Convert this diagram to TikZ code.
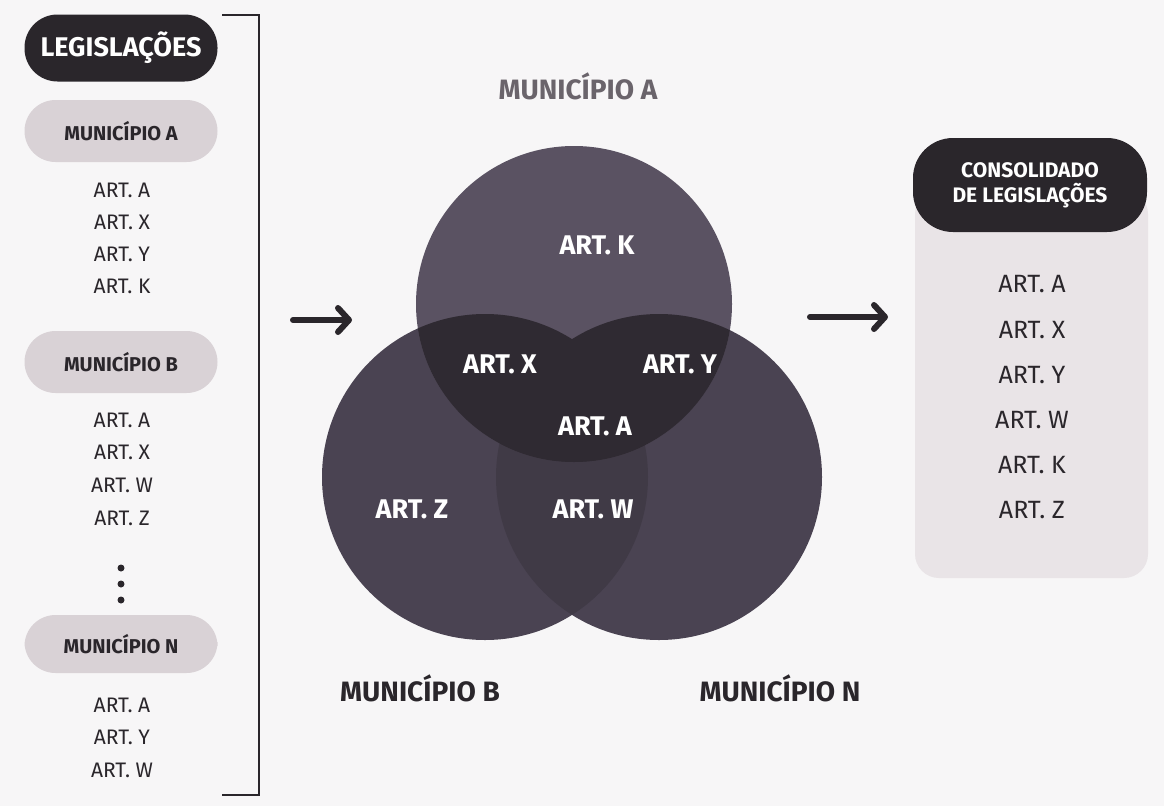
\documentclass[tikz,border=0pt]{standalone}
\usepackage{fontspec}
\setmainfont{Fira Sans}
\usetikzlibrary{arrows.meta}

\definecolor{paper}{HTML}{F7F6F7}
\definecolor{ink}{HTML}{2A262B}
\definecolor{pillbg}{HTML}{D9D2D6}
\definecolor{panelbg}{HTML}{E9E4E7}
\definecolor{circA}{HTML}{5A5262}
\definecolor{circBN}{HTML}{4A4352}
\definecolor{lens}{HTML}{2F2A32}
\definecolor{lensBN}{HTML}{403A46}
\definecolor{titlegray}{HTML}{6A646B}

\tikzset{
  darkpill/.style={fill=ink, text=white, rounded corners=33pt, inner sep=0pt,
    font=\fontsize{27}{30}\selectfont\bfseries},
  lightpill/.style={fill=pillbg, text=ink, rounded corners=31pt, inner sep=0pt,
    minimum width=193pt, minimum height=62pt,
    font=\fontsize{20}{23}\selectfont\bfseries},
  item/.style={text=ink, inner sep=0pt, font=\fontsize{21}{24}\selectfont},
  ritem/.style={text=ink, inner sep=0pt, font=\fontsize{25}{28}\selectfont},
  inlabel/.style={text=white, inner sep=0pt, font=\fontsize{27}{30}\selectfont\bfseries},
  setlabel/.style={text=ink, inner sep=0pt, font=\fontsize{28}{32}\selectfont\bfseries},
  flow/.style={draw=ink, line width=6pt, line cap=round,
    -{Straight Barb[length=11pt, width=24pt, round]}},
  bracket/.style={draw=ink, line width=2.5pt},
  dot/.style={circle, fill=ink, inner sep=0pt, minimum size=7pt},
}

\begin{document}
\begin{tikzpicture}[x=1pt, y=-1pt]
  \useasboundingbox (0,0) rectangle (1164,806);
  \fill[paper] (0,0) rectangle (1164,806);

  % ---------- left column: source legislation ----------
  \node[darkpill, minimum width=193pt, minimum height=67pt] (leg) at (121,48) {LEGISLAÇÕES};

  \node[lightpill] (mA) at (121,131) {MUNICÍPIO A};
  \node[item] (a1) at (122,190) {ART. A};
  \node[item] (a2) at (122,222) {ART. X};
  \node[item] (a3) at (122,254) {ART. Y};
  \node[item] (a4) at (122,286) {ART. K};

  \node[lightpill] (mB) at (121,362) {MUNICÍPIO B};
  \node[item] (b1) at (122,420) {ART. A};
  \node[item] (b2) at (122,452) {ART. X};
  \node[item] (b3) at (122,485) {ART. W};
  \node[item] (b4) at (122,518) {ART. Z};

  \node[dot] (d1) at (121,568) {};
  \node[dot] (d2) at (121,584) {};
  \node[dot] (d3) at (121,600) {};

  \node[lightpill, minimum height=58pt] (mN) at (121,644) {MUNICÍPIO N};
  \node[item] (n1) at (122,705) {ART. A};
  \node[item] (n2) at (122,737) {ART. Y};
  \node[item] (n3) at (122,770) {ART. W};

  % bracket grouping all sources
  \coordinate (brT) at (222,15);
  \coordinate (brTR) at (259,15);
  \coordinate (brBR) at (259,795);
  \coordinate (brB) at (222,795);
  \draw[bracket] (brT) -- (brTR) -- (brBR) -- (brB);

  % ---------- Venn diagram ----------
  \coordinate (cA) at (574,304);
  \coordinate (cB) at (485,477);
  \coordinate (cN) at (659,477);
  \def\rA{158}
  \def\rBN{163}

  \fill[circBN] (cB) circle[radius=\rBN];
  \fill[circBN] (cN) circle[radius=\rBN];
  \begin{scope}
    \clip (cB) circle[radius=\rBN];
    \fill[lensBN] (cN) circle[radius=\rBN];
  \end{scope}
  \fill[circA] (cA) circle[radius=\rA];
  \begin{scope}
    \clip (cA) circle[radius=\rA];
    \fill[lens] (cB) circle[radius=\rBN];
    \fill[lens] (cN) circle[radius=\rBN];
  \end{scope}

  \node[inlabel] (vK) at (597,245) {ART. K};
  \node[inlabel] (vX) at (500,364) {ART. X};
  \node[inlabel] (vY) at (680,364) {ART. Y};
  \node[inlabel] (vA) at (595,426) {ART. A};
  \node[inlabel] (vZ) at (412,509) {ART. Z};
  \node[inlabel] (vW) at (593,509) {ART. W};

  \node[setlabel, text=titlegray] (tA) at (578,86) {MUNICÍPIO A};
  \node[setlabel] (tB) at (420,688) {MUNICÍPIO B};
  \node[setlabel] (tN) at (780,688) {MUNICÍPIO N};

  % ---------- flow arrows ----------
  \coordinate (inS) at (293,320);
  \coordinate (inE) at (352,320);
  \coordinate (outS) at (810,317);
  \coordinate (outE) at (888,317);
  \draw[flow] (inS) -- (inE);
  \draw[flow] (outS) -- (outE);

  % ---------- right column: consolidated result ----------
  \fill[panelbg, rounded corners=24pt] (915,190) rectangle (1148,578);
  \node[fill=ink, text=white, rounded corners=40pt, inner sep=0pt,
        minimum width=234pt, minimum height=94pt, align=center,
        font=\fontsize{21}{25}\selectfont\bfseries] (cons) at (1030,185)
        {CONSOLIDADO\\DE LEGISLAÇÕES};

  \node[ritem] (r1) at (1032,284) {ART. A};
  \node[ritem] (r2) at (1032,330) {ART. X};
  \node[ritem] (r3) at (1032,375) {ART. Y};
  \node[ritem] (r4) at (1032,420) {ART. W};
  \node[ritem] (r5) at (1032,465) {ART. K};
  \node[ritem] (r6) at (1032,510) {ART. Z};
\end{tikzpicture}
\end{document}
